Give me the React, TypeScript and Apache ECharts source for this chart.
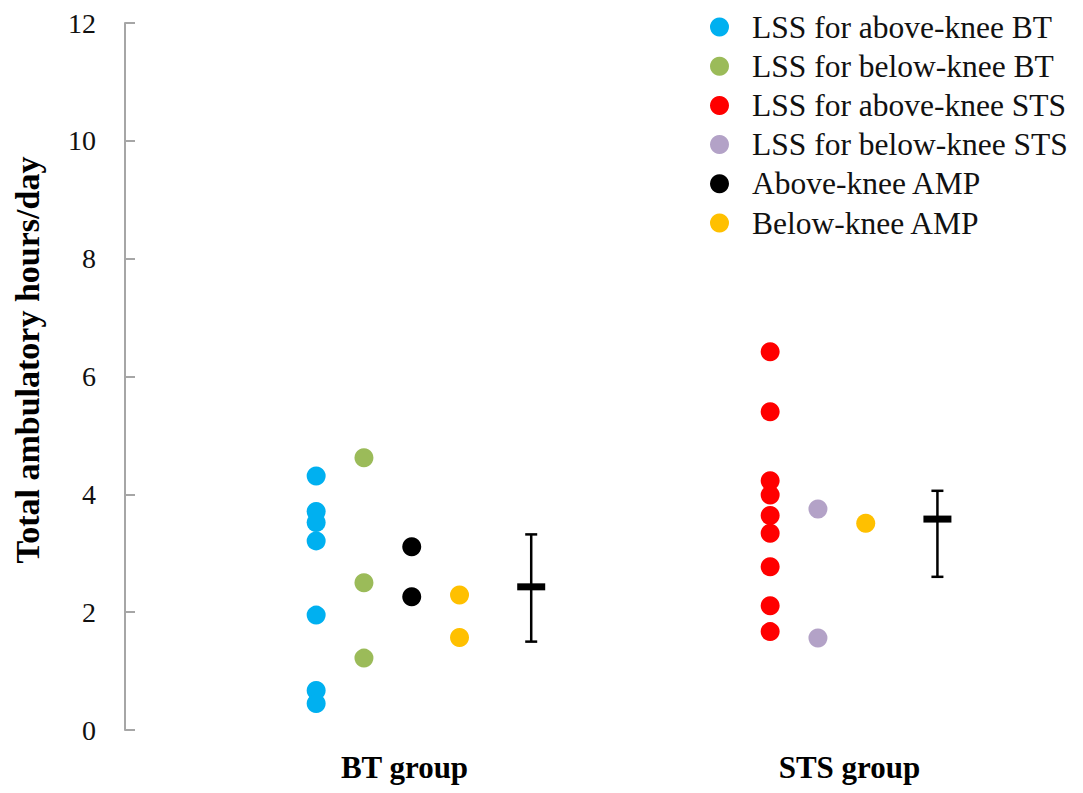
import React, { useEffect, useRef } from "react";
import * as echarts from "echarts";

// ---- data ----
const groups = ["BT group", "STS group"];
const yTicks = { min: 0, max: 12, interval: 2 };

const aboveKneeBT = [4.31, 3.71, 3.52, 3.21, 1.95, 0.67, 0.45];
const belowKneeBT = [4.62, 2.5, 1.22];
const aboveKneeSTS = [6.42, 5.4, 4.23, 3.99, 3.64, 3.34, 2.77, 2.11, 1.67];
const belowKneeSTS = [3.75, 1.56];
const aboveKneeAmpBT = [3.11, 2.26];
const belowKneeAmpBT = [2.29, 1.57];
const belowKneeAmpSTS = [3.51];

// mean, lower, upper
const btSummary = [2.43, 1.5, 3.32];
const stsSummary = [3.58, 2.6, 4.06];

// column slots (x positions of columns)
const slot = {
  btAbove: 1,
  btBelow: 2,
  btAmpAbove: 3,
  btAmpBelow: 4,
  btErr: 5.5,
  stsAbove: 10.5,
  stsBelow: 11.5,
  stsAmpBelow: 12.5,
  stsErr: 14,
};

const SERIF = "Liberation Serif";

export default function App() {
  const ref = useRef<HTMLDivElement>(null);

  useEffect(() => {
    if (!ref.current) return;
    const chart = echarts.init(ref.current, undefined, { renderer: "svg" });

    const pts = (x: number, arr: number[]) => arr.map((v) => [x, v]);
    const dot = (name: string, color: string, data: number[][]) => ({
      name,
      type: "scatter",
      xAxisIndex: 0,
      yAxisIndex: 0,
      symbol: "circle",
      symbolSize: 19,
      itemStyle: { color, opacity: 1 },
      data,
      z: 3,
    });

    const errData = [
      [slot.btErr, ...btSummary],
      [slot.stsErr, ...stsSummary],
    ];

    const option: any = {
      animation: false,
      backgroundColor: "#ffffff",
      textStyle: { fontFamily: SERIF },
      grid: [
        { left: 125, right: 50, top: 23, bottom: 63 },
        { left: 182, right: 11, top: 23, bottom: 63 },
      ],
      xAxis: [
        { type: "value", gridIndex: 0, min: -3, max: 16, show: false },
        {
          type: "category",
          gridIndex: 1,
          data: groups,
          boundaryGap: true,
          axisLine: { show: false },
          axisTick: { show: false },
          axisLabel: {
            margin: 22,
            color: "#000",
            fontFamily: SERIF,
            fontWeight: "bold",
            fontSize: 31,
          },
        },
      ],
      yAxis: [
        {
          type: "value",
          gridIndex: 0,
          min: yTicks.min,
          max: yTicks.max,
          interval: yTicks.interval,
          axisLine: { show: true, onZero: false, lineStyle: { color: "#A6A6A6", width: 2 } },
          axisTick: {
            show: true,
            inside: true,
            length: 10,
            lineStyle: { color: "#A6A6A6", width: 2 },
          },
          splitLine: { show: false },
          axisLabel: {
            margin: 29,
            color: "#111",
            fontFamily: SERIF,
            fontSize: 28,
          },
        },
        { type: "value", gridIndex: 1, min: 0, max: 12, show: false },
      ],
      legend: {
        orient: "vertical",
        left: 705,
        top: 6,
        icon: "circle",
        itemWidth: 19,
        itemHeight: 19,
        itemGap: 7.2,
        textStyle: {
          fontFamily: SERIF,
          fontSize: 31.5,
          color: "#111",
          lineHeight: 31,
          padding: [0, 0, 0, 18],
        },
        data: [
          "LSS for above-knee BT",
          "LSS for below-knee BT",
          "LSS for above-knee STS",
          "LSS for below-knee STS",
          "Above-knee AMP",
          "Below-knee AMP",
        ],
      },
      graphic: [
        {
          type: "text",
          x: 27,
          y: 360,
          rotation: Math.PI / 2,
          style: {
            text: "Total ambulatory hours/day",
            fontFamily: SERIF,
            fontWeight: "bold",
            fontSize: 34,
            fill: "#000",
            align: "center",
            verticalAlign: "middle",
          },
        },
      ],
      series: [
        dot("LSS for above-knee BT", "#00B0F0", pts(slot.btAbove, aboveKneeBT)),
        dot("LSS for below-knee BT", "#9BBB59", pts(slot.btBelow, belowKneeBT)),
        dot("LSS for above-knee STS", "#FF0000", pts(slot.stsAbove, aboveKneeSTS)),
        dot("LSS for below-knee STS", "#B3A2C7", pts(slot.stsBelow, belowKneeSTS)),
        dot("Above-knee AMP", "#000000", pts(slot.btAmpAbove, aboveKneeAmpBT)),
        dot("Below-knee AMP", "#FFC000", [
          ...pts(slot.btAmpBelow, belowKneeAmpBT),
          ...pts(slot.stsAmpBelow, belowKneeAmpSTS),
        ]),
        {
          type: "custom",
          name: "summary",
          xAxisIndex: 0,
          yAxisIndex: 0,
          data: errData,
          z: 4,
          renderItem: (params: any, api: any) => {
            const x = api.value(0);
            const mean = api.coord([x, api.value(1)]);
            const lo = api.coord([x, api.value(2)]);
            const hi = api.coord([x, api.value(3)]);
            const cap = 6;
            const half = 14;
            const ls = { stroke: "#000", lineWidth: 2.5 };
            return {
              type: "group",
              children: [
                { type: "line", shape: { x1: hi[0], y1: hi[1], x2: lo[0], y2: lo[1] }, style: ls },
                { type: "line", shape: { x1: hi[0] - cap, y1: hi[1], x2: hi[0] + cap, y2: hi[1] }, style: ls },
                { type: "line", shape: { x1: lo[0] - cap, y1: lo[1], x2: lo[0] + cap, y2: lo[1] }, style: ls },
                {
                  type: "rect",
                  shape: { x: mean[0] - half, y: mean[1] - 3.5, width: half * 2, height: 7 },
                  style: { fill: "#000" },
                },
              ],
            };
          },
        },
      ],
    };

    chart.setOption(option);
    return () => chart.dispose();
  }, []);

  return <div ref={ref} style={{ width: 1083, height: 793, position: "absolute", left: 0, top: 0 }} />;
}
